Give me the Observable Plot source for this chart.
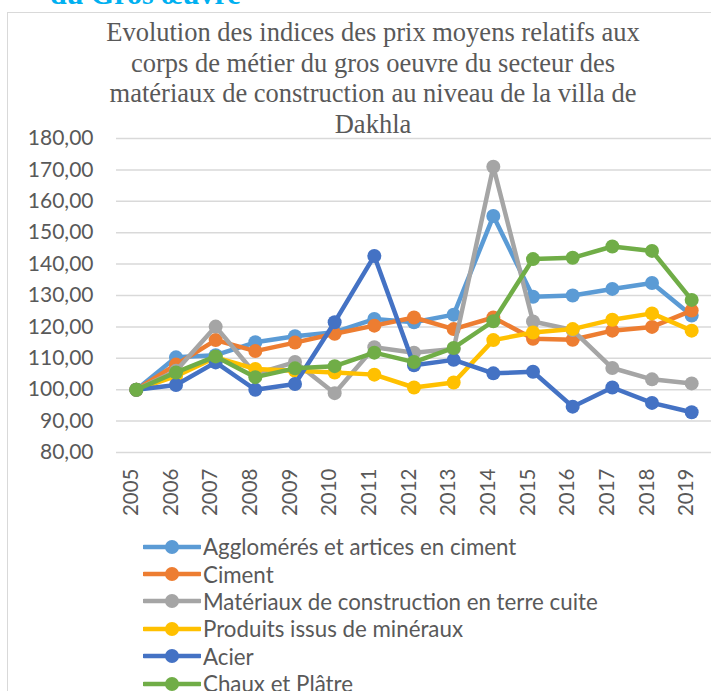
<!DOCTYPE html>
<html>
<head>
<meta charset="utf-8">
<script src="https://cdn.jsdelivr.net/npm/d3@7"></script>
<script src="https://cdn.jsdelivr.net/npm/@observablehq/plot@0.6"></script>
<style>
  html, body { margin: 0; padding: 0; background: #fff; }
  body { width: 711px; height: 691px; overflow: hidden; position: relative; }
  #frame { position: absolute; left: 7px; top: 12px; width: 720px; height: 700px; border: 1.5px solid #d9d9d9; box-sizing: border-box; }
  #cut { position: absolute; left: 50px; top: -20px; font: bold 30px/28px "Liberation Serif", serif; color: #00b0f0; white-space: nowrap; }
  #chart { position: absolute; left: 0; top: 0; }
  #title { position: absolute; left: 20px; width: 706px; top: 17px; text-align: center; font: 26.5px/30.6px "Liberation Serif", serif; color: #595959; white-space: nowrap; }
  #legend { position: absolute; left: 143px; top: 533px; font: 22.3px "Lato", sans-serif; color: #595959; }
  .item { display: flex; align-items: center; height: 27.4px; white-space: nowrap; }
  .item svg { margin-right: 2px; flex: none; }
</style>
</head>
<body>
<div id="frame"></div>
<div id="cut">du Gros œuvre</div>
<div id="chart"></div>
<div id="title">Evolution des indices des prix moyens relatifs aux<br>corps de métier du gros oeuvre du secteur des<br>matériaux de construction au niveau de la villa de<br>Dakhla</div>
<div id="legend"></div>
<script>
const years = ["2005","2006","2007","2008","2009","2010","2011","2012","2013","2014","2015","2016","2017","2018","2019"];
const seriesNames = [
  "Agglomérés et artices en ciment",
  "Ciment",
  "Matériaux de construction en terre cuite",
  "Produits issus de minéraux",
  "Acier",
  "Chaux et Plâtre"
];
const colors = ["#5b9bd5", "#ed7d31", "#a5a5a5", "#ffc000", "#4472c4", "#70ad47"];
const agglomeres = [100, 110.3, 111, 115.1, 117, 118.3, 122.5, 121.5, 123.9, 155.3, 129.6, 130, 132.1, 134, 123.6];
const ciment     = [100, 108, 115.8, 112.3, 115, 117.8, 120.4, 123, 119.3, 123, 116.2, 115.9, 118.8, 120, 125.2];
const terreCuite = [100, 106, 120.1, 105, 108.8, 98.9, 113.5, 111.8, 113, 171, 121.7, 119, 106.9, 103.3, 102];
const mineraux   = [100, 104.3, 110.3, 106.6, 106, 105.5, 104.8, 100.7, 102.3, 115.8, 118.2, 119.3, 122.3, 124.3, 118.8];
const acier      = [100, 101.5, 108.7, 100, 101.8, 121.5, 142.6, 107.8, 109.5, 105.2, 105.7, 94.6, 100.7, 95.8, 92.8];
const chaux      = [100, 105.5, 110.6, 104, 106.8, 107.5, 111.8, 108.8, 113.3, 121.8, 141.6, 142, 145.6, 144.2, 128.6];
const yTicks = [80, 90, 100, 110, 120, 130, 140, 150, 160, 170, 180];

const allSeries = [agglomeres, ciment, terreCuite, mineraux, acier, chaux];
const data = [];
allSeries.forEach((vals, s) => vals.forEach((v, i) => data.push({series: seriesNames[s], year: years[i], value: v})));

const fmt = d => d.toFixed(2).replace(".", ",");
const font = "Lato, sans-serif";

const marks = [
  Plot.ruleY(yTicks, {stroke: "#d9d9d9", strokeWidth: 1.5, strokeOpacity: 1}),
  Plot.axisY({ticks: yTicks, tickSize: 0, tickPadding: 23, tickFormat: fmt, fontSize: 21, fill: "#595959", fontFamily: font, label: null}),
  Plot.axisX({tickSize: 0, tickRotate: -90, tickPadding: 16, dx: -5, fontSize: 20.5, fill: "#595959", fontFamily: font, label: null})
];
seriesNames.forEach((name, s) => {
  const rows = data.filter(d => d.series === name);
  marks.push(Plot.lineY(rows, {x: "year", y: "value", stroke: colors[s], strokeWidth: 4.5, strokeLinejoin: "round"}));
  marks.push(Plot.dot(rows, {x: "year", y: "value", fill: colors[s], r: 7, stroke: null}));
});

const chart = Plot.plot({
  width: 711,
  height: 530,
  marginTop: 138,
  marginBottom: 78,
  marginLeft: 116,
  marginRight: 0,
  x: {type: "point", domain: years, padding: 0.5, round: false},
  y: {domain: [80, 180]},
  style: {background: "transparent", overflow: "visible"},
  marks
});
document.getElementById("chart").append(chart);

const legend = document.getElementById("legend");
seriesNames.forEach((name, s) => {
  const item = document.createElement("div");
  item.className = "item";
  item.innerHTML = `<svg width="58" height="16"><line x1="1" y1="8" x2="57" y2="8" stroke="${colors[s]}" stroke-width="4.5" stroke-linecap="round"/><circle cx="29" cy="8" r="7" fill="${colors[s]}"/></svg><span>${name}</span>`;
  legend.append(item);
});
</script>
</body>
</html>
